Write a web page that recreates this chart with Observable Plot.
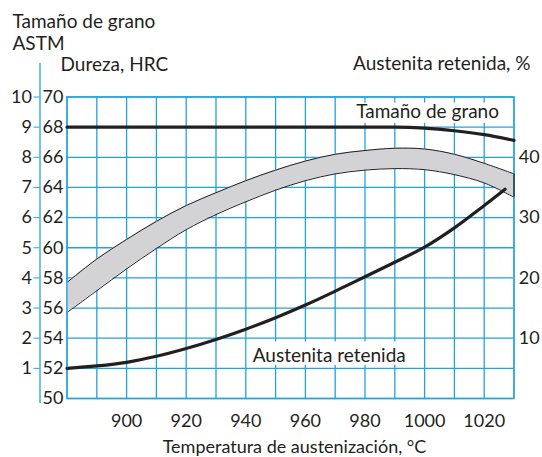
<!DOCTYPE html>
<html><head><meta charset="utf-8">
<script src="https://cdn.jsdelivr.net/npm/d3@7"></script>
<script src="https://cdn.jsdelivr.net/npm/@observablehq/plot@0.6"></script>
<style>body{margin:0;background:#fff}</style>
</head><body><div id="chart"></div>
<script>
// Temperatures (°C) for the hardness band
const bandTemps = [880,890,900,910,920,930,940,950,960,970,980,990,1000,1010,1020,1030];
const hardnessUpper = [57.7,59.25,60.55,61.75,62.8,63.65,64.45,65.15,65.75,66.2,66.45,66.6,66.55,66.2,65.6,64.9];
const hardnessLower = [55.7,57.15,58.6,59.95,61.2,62.2,63.05,63.82,64.45,64.9,65.15,65.25,65.18,64.85,64.3,63.35];
// Grain size ASTM
const grainTemps = [880,990,1000,1010,1020,1030];
const grainSize = [9,9,8.97,8.88,8.75,8.56];
// Retained austenite %
const austTemps = [880,890,900,910,920,930,940,950,960,970,980,990,1000,1010,1020,1027];
const austenite = [5.0,5.4,6.0,7.0,8.3,9.8,11.5,13.4,15.5,17.8,20.2,22.6,25.1,28.3,32.0,34.7];
// Tick labels
const xTicks = [900,920,940,960,980,1000,1020];
const hrcTicks = [50,52,54,56,58,60,62,64,66,68,70];
const grainTicks = [1,2,3,4,5,6,7,8,9,10];
const austTicks = [10,20,30,40];
const gridTemps = d3.range(880,1031,10);

const blue = "#22a3de";
const ink = "#231f20";
const font = "Lato, 'Open Sans', sans-serif";

const grainToHrc = g => 50 + 2*g;
const austToHrc = a => 50 + 0.4*a;

const band = bandTemps.map((t,i) => ({t, lo: hardnessLower[i], hi: hardnessUpper[i]}));
const grain = grainTemps.map((t,i) => ({t, v: grainToHrc(grainSize[i])}));
const aust = austTemps.map((t,i) => ({t, v: austToHrc(austenite[i])}));

const chart = Plot.plot({
  width: 542, height: 457,
  marginLeft: 66.5, marginRight: 28.5, marginTop: 96.5, marginBottom: 59,
  style: {fontFamily: font, fontSize: "18px", color: ink, background: "#fff"},
  x: {domain: [880,1030], axis: null},
  y: {domain: [50,70], axis: null},
  marks: [
    Plot.ruleX(gridTemps, {stroke: blue, strokeWidth: 1.3}),
    Plot.ruleY(hrcTicks, {stroke: blue, strokeWidth: 1.3}),
    Plot.rect([0], {x1: 975.5, x2: 1027, y1: 68.25, y2: 69.6, fill: "#fff"}),
    Plot.rect([0], {x1: 940.5, x2: 995.5, y1: 52.2, y2: 53.75, fill: "#fff"}),
    Plot.areaY(band, {x: "t", y1: "lo", y2: "hi", fill: "#d3d3d5", curve: "catmull-rom"}),
    Plot.line(band, {x: "t", y: "hi", stroke: ink, strokeWidth: 1, curve: "catmull-rom"}),
    Plot.line(band, {x: "t", y: "lo", stroke: ink, strokeWidth: 1, curve: "catmull-rom"}),
    Plot.frame({stroke: blue, strokeWidth: 1.3}),
    Plot.ruleX(band.slice(-1), {x: "t", y1: "lo", y2: "hi", stroke: ink, strokeWidth: 1.2}),
    Plot.line(grain, {x: "t", y: "v", stroke: ink, strokeWidth: 3.2, curve: "monotone-x"}),
    Plot.line(aust, {x: "t", y: "v", stroke: ink, strokeWidth: 3.2, curve: "catmull-rom"}),
    // left blue axis line with ticks and grain size labels
    Plot.ruleX([880], {dx: -27, y1: 72.22, y2: 49.67, stroke: blue, strokeWidth: 1.3}),
    Plot.axisY(grainTicks.map(grainToHrc), {anchor: "left", tickSize: 6, tickPadding: 2, dx: -27,
      stroke: blue, fill: ink, fontSize: 18, tickFormat: d => (d-50)/2}),
    // HRC labels
    Plot.text(hrcTicks, {y: d => d, text: d => String(d), frameAnchor: "left", dx: -24.5, textAnchor: "start", fontSize: 18, fill: ink}),
    // right axis labels
    Plot.text(austTicks, {y: austToHrc, text: d => String(d), frameAnchor: "right", dx: 4.8, textAnchor: "start", fontSize: 18, fill: ink}),
    // x tick labels
    Plot.text(xTicks, {x: d => d, text: d => String(d), frameAnchor: "bottom", lineAnchor: "bottom", dy: 28, fontSize: 18, fill: ink}),
    Plot.text(["Temperatura de austenización, °C"], {frameAnchor: "bottom", lineAnchor: "bottom", dx: 4, dy: 54, fontSize: 18, fill: ink}),
    // titles
    Plot.text(["Tamaño de grano"], {frameAnchor: "top-left", textAnchor: "start", lineAnchor: "bottom", dx: -54.5, dy: -69.5, fontSize: 19, fill: ink}),
    Plot.text(["ASTM"], {frameAnchor: "top-left", textAnchor: "start", lineAnchor: "bottom", dx: -54.5, dy: -47.5, fontSize: 19, fill: ink}),
    Plot.text(["Dureza, HRC"], {frameAnchor: "top-left", textAnchor: "start", lineAnchor: "bottom", dx: -6.5, dy: -26, fontSize: 19, fill: ink}),
    Plot.text(["Austenita retenida, %"], {frameAnchor: "top-right", textAnchor: "end", lineAnchor: "bottom", dx: 16.5, dy: -27.5, fontSize: 19, fill: ink}),
    // in-chart labels
    Plot.text(["Tamaño de grano"], {x: [1001], y: [68.59], lineAnchor: "bottom", fontSize: 19, fill: ink}),
    Plot.text(["Austenita retenida"], {x: [968], y: [52.42], lineAnchor: "bottom", fontSize: 19, fill: ink})
  ]
});
document.getElementById("chart").append(chart);
</script>
</body></html>
